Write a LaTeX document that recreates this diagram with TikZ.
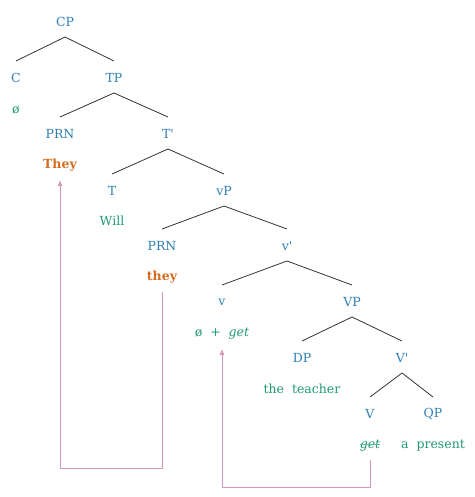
\documentclass[tikz,border=0pt]{standalone}
\usepackage{fontspec}
\setmainfont{DejaVu Serif}
\usepackage{tikz}
\usetikzlibrary{arrows.meta}

\definecolor{catblue}{RGB}{47,127,181}
\definecolor{wordgreen}{RGB}{31,154,110}
\definecolor{pronorange}{RGB}{214,108,30}
\definecolor{movepink}{RGB}{212,150,185}

\tikzset{
  cat/.style={text=catblue, font=\fontsize{12.5}{14}\selectfont},
  word/.style={text=wordgreen, font=\fontsize{12.5}{14}\selectfont},
  pron/.style={text=pronorange, font=\fontsize{12.5}{14}\selectfont\bfseries},
  branch/.style={draw=black!80, line width=0.8pt},
  movement/.style={draw=movepink, line width=0.9pt, -{Latex[length=6pt,width=5pt]}}
}

\newcommand{\branchto}[2]{\draw[branch] ([yshift=-15pt]#1.center) -- ([yshift=17pt]#2.center);}

\begin{document}
\begin{tikzpicture}[x=1pt,y=-1pt]
    \useasboundingbox (0,0) rectangle (474,497);
    % Categories of the tree
    \node[cat] (cp) at (65,22) {CP};
    \node[cat] (c) at (16,78) {C};
    \node[cat] (tp) at (114,78) {TP};
    \node[cat] (prn1) at (60,134) {PRN};
    \node[cat] (tbar) at (168,134) {T\textquotesingle};
    \node[cat] (t) at (112,191) {T};
    \node[cat] (vp) at (224,191) {vP};
    \node[cat] (prn2) at (162,246) {PRN};
    \node[cat] (vbar) at (287,246) {v\textquotesingle};
    \node[cat] (v) at (222,302) {v};
    \node[cat] (VP) at (352,302) {VP};
    \node[cat] (dp) at (302,358) {DP};
    \node[cat] (Vbar) at (402,358) {V\textquotesingle};
    \node[cat] (V) at (370,414) {V};
    \node[cat] (qp) at (433,414) {QP};
    % Words under the categories
    \node[word] (cnull) at (16,110) {ø};
    \node[pron] (They) at (60,165) {They};
    \node[word] (will) at (112,221) {Will};
    \node[pron] (they) at (162,277) {they};
    \node[word] (vget) at (222,334) {ø \ + \ \textit{get}};
    \node[word] (teacher) at (302,389) {the \ teacher};
    \node[word] (get) at (370,446) {\textit{get}};
    \node[word] (present) at (433,446) {a \ present};
    % Branches
    \branchto{cp}{c}
    \branchto{cp}{tp}
    \branchto{tp}{prn1}
    \branchto{tp}{tbar}
    \branchto{tbar}{t}
    \branchto{tbar}{vp}
    \branchto{vp}{prn2}
    \branchto{vp}{vbar}
    \branchto{vbar}{v}
    \branchto{vbar}{VP}
    \branchto{VP}{dp}
    \branchto{VP}{Vbar}
    \branchto{Vbar}{V}
    \branchto{Vbar}{qp}
    % Struck-out copy of get
    \draw[wordgreen!70, line width=0.4pt] ([xshift=3.5pt,yshift=2pt]get.west) -- ([xshift=-3.5pt,yshift=2pt]get.east);
    % Movement arrows
    \coordinate (turn1) at (162,468);
    \coordinate (turn2) at (60,468);
    \draw[movement] ([yshift=-15pt]they.center) -- (turn1) -- (turn2) -- ([yshift=-15pt]They.center);
    \coordinate (turn3) at (370,487);
    \coordinate (turn4) at (222,487);
    \draw[movement] ([yshift=-14pt]get.center) -- (turn3) -- (turn4) -- ([yshift=-15pt]vget.center);
\end{tikzpicture}
\end{document}
